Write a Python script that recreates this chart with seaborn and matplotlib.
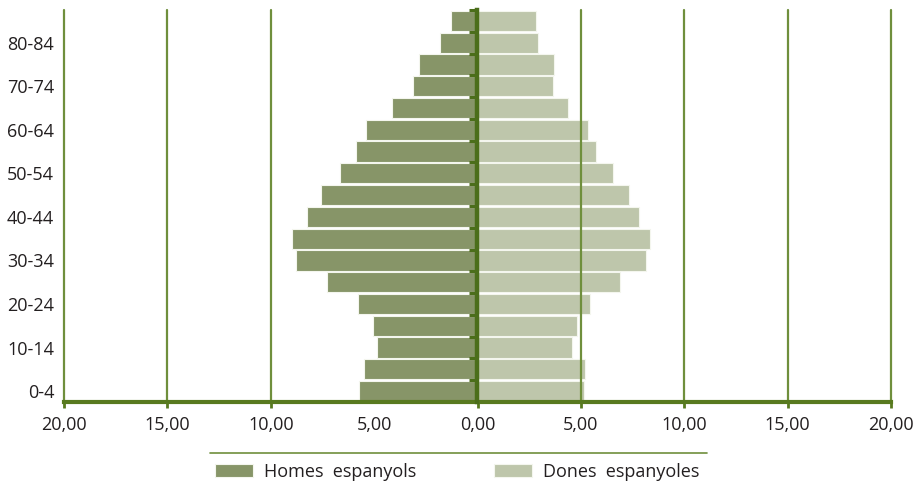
import matplotlib.pyplot as plt
import pandas as pd
import seaborn as sns
from matplotlib.lines import Line2D

# piramide de poblacio espanyola (%)
edats = ["0-4", "5-9", "10-14", "15-19", "20-24", "25-29", "30-34", "35-39",
         "40-44", "45-49", "50-54", "55-59", "60-64", "65-69", "70-74",
         "75-79", "80-84", "85 i més"]
homes = [5.71, 5.48, 4.87, 5.06, 5.76, 7.30, 8.79, 8.95, 8.25, 7.59, 6.66,
         5.89, 5.40, 4.13, 3.10, 2.84, 1.79, 1.27]
dones = [5.16, 5.22, 4.58, 4.82, 5.43, 6.88, 8.16, 8.35, 7.80, 7.35, 6.53,
         5.71, 5.35, 4.37, 3.63, 3.69, 2.93, 2.84]
xticks = [-20, -15, -10, -5, 0, 5, 10, 15, 20]
etiquetes_edat = edats[0:17:2]
noms = ["Homes  espanyols", "Dones  espanyoles"]

verd_fosc = "#4b6e1a"
verd_eix = "#587a1f"
verd_grid = "#6f8f3c"
text_col = "#231f20"

df = pd.DataFrame({
    "edat": edats * 2,
    "valor": [-v for v in homes] + dones,
    "sexe": [noms[0]] * len(edats) + [noms[1]] * len(edats),
})

sns.set_theme(style="white")
plt.rcParams["font.family"] = ["Open Sans", "DejaVu Sans"]

fig = plt.figure(figsize=(9.16, 4.88), dpi=100)
ax = fig.add_axes([64 / 916, 86 / 488, 827 / 916, 392 / 488])

ordre = edats[::-1]
sns.barplot(
    data=df, x="valor", y="edat", hue="sexe", order=ordre,
    palette=["#8a9c60", "#c0caa7"], dodge=False, width=0.93,
    edgecolor="#f4f6ee", linewidth=0.8, ax=ax, zorder=1,
)
handles, labels = ax.get_legend_handles_labels()
ax.get_legend().remove()

ax.set_xlim(-20, 20)
ax.set_ylim(len(edats) - 0.5, -0.5)

# linies verticals (la de -5 no surt a l'original)
for v in xticks:
    if v in (-5, 0):
        continue
    ax.axvline(v, color=verd_grid, linewidth=1.6, zorder=3, clip_on=False)

for s in ["top", "left", "right"]:
    ax.spines[s].set_visible(False)
ax.spines["bottom"].set_color(verd_eix)
ax.spines["bottom"].set_linewidth(3)
ax.spines["bottom"].set_zorder(4)

ax.set_xticks(xticks)
ax.set_xticklabels([f"{abs(v):.2f}".replace(".", ",") for v in xticks])
ax.tick_params(axis="x", bottom=True, length=4, width=2, color=verd_eix,
               direction="out", pad=6, labelsize=13, labelcolor=text_col)
ax.xaxis.get_major_ticks()[3].tick1line.set_visible(False)

ax.set_yticks([ordre.index(e) for e in etiquetes_edat])
ax.set_yticklabels(etiquetes_edat)
ax.tick_params(axis="y", left=False, length=0, pad=7, labelsize=13,
               labelcolor=text_col)
ax.set_xlabel("")
ax.set_ylabel("")

# eix central amb marques entre grups
secax = ax.secondary_yaxis(0.5)
secax.set_zorder(5)
secax.yaxis.set_ticks_position("left")
secax.spines["right"].set_visible(False)
secax.spines["left"].set_visible(True)
secax.spines["left"].set_color(verd_fosc)
secax.spines["left"].set_linewidth(3.2)
secax.set_yticks([i - 0.5 for i in range(len(edats))])
secax.set_yticklabels([])
secax.tick_params(axis="y", left=True, right=False, length=6, width=2.2,
                  color=verd_fosc, direction="out")

fig.add_artist(Line2D([210 / 916, 707 / 916], [35 / 488, 35 / 488],
                      color=verd_grid, linewidth=1.2))
fig.legend(
    handles, labels, loc="center", bbox_to_anchor=(457 / 916, 16 / 488),
    ncol=2, frameon=False, fontsize=13, handlelength=2.1, handleheight=0.72,
    handletextpad=0.6, columnspacing=4.3, labelcolor=text_col,
)

fig.savefig("out.png", dpi=100)
